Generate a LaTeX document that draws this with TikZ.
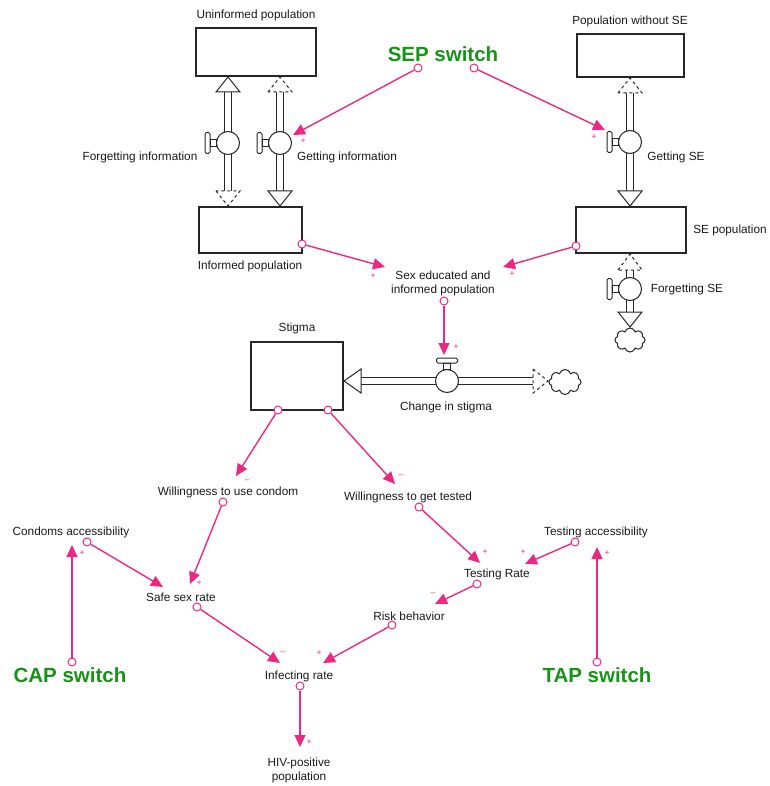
\documentclass[tikz,border=0pt]{standalone}
\usepackage{fontspec}
\setmainfont{Liberation Sans}
\usetikzlibrary{arrows.meta,shapes.symbols}
\definecolor{linkpink}{RGB}{236,40,130}
\definecolor{switchgreen}{RGB}{22,148,22}
\begin{document}
\begin{tikzpicture}[x=1pt, y=-1pt,
    lbl/.style={font=\fontsize{11.8}{14}\selectfont, text=black!90, inner sep=0pt, align=center},
    switch/.style={font=\fontsize{20.5}{22}\selectfont\bfseries, text=switchgreen, inner sep=0pt},
    stock/.style={draw=black!85, line width=1.1pt, fill=white, inner sep=0pt},
    tail/.style={circle, draw=linkpink, fill=white, line width=1pt, inner sep=0pt, minimum size=8pt},
    link/.style={draw=linkpink, line width=1.4pt, -{Triangle[length=12pt,width=11pt]}},
    sign/.style={font=\fontsize{8.5}{8.5}\selectfont, text=linkpink, inner sep=0pt},
    pipe/.style={draw=black!85, line width=1pt, double=white, double distance=6.5pt},
    head/.style={draw=black!85, line width=1pt, fill=white},
    vapor/.style={cloud, cloud puffs=8, draw=black!85, line width=1pt, fill=white, inner sep=0pt},
    valve/.pic={
        \draw[black!85, line width=1pt, fill=white, rounded corners=1.5pt] (-23,-10.5) rectangle (-18,10.5);
        \draw[black!85, line width=1pt, fill=white] (-18,-3.5) rectangle (-11.5,3.5);
        \draw[black!85, line width=1pt, fill=white] (0,0) circle[radius=11.5];
    }]
        \useasboundingbox (0,0) rectangle (769,786);
        \node[stock, minimum width=120pt, minimum height=48pt] (uninf) at (256,52) {};
        \node[stock, minimum width=103pt, minimum height=46pt] (inf) at (250.5,230) {};
        \node[stock, minimum width=107pt, minimum height=43pt] (noSE) at (630.5,55.5) {};
        \node[stock, minimum width=110pt, minimum height=46pt] (SEpop) at (631,230) {};
        \node[stock, minimum width=92pt, minimum height=68pt] (stigma) at (297,376) {};
        \node[lbl] (uninfL) at (256,15) {Uninformed population};
        \node[lbl] (infL) at (250,266) {Informed population};
        \node[lbl] (noSEL) at (630,21) {Population without SE};
        \node[lbl] (SEpopL) at (730,230) {SE population};
        \node[lbl] (stigmaL) at (297,328) {Stigma};
        \draw[pipe] (228,92) -- (228,191);
        \draw[pipe] (280,92) -- (280,191);
        \draw[pipe] (630,92) -- (630,191);
        \draw[pipe] (630,270) -- (630,312);
        \draw[pipe] (361,381) -- (533,381);
        \draw[head] (216,92) -- (228,77) -- (240,92) -- cycle;
        \draw[head] (268,191) -- (280,206) -- (292,191) -- cycle;
        \draw[head] (618,191) -- (630,206) -- (642,191) -- cycle;
        \draw[head] (618,312) -- (630,327) -- (642,312) -- cycle;
        \draw[head] (361,369) -- (344,381) -- (361,393) -- cycle;
        \draw[head, dashed] (216,191) -- (228,206) -- (240,191) -- cycle;
        \draw[head, dashed] (268,92) -- (280,77) -- (292,92) -- cycle;
        \draw[head, dashed] (618,93) -- (630,78) -- (642,93) -- cycle;
        \draw[head, dashed] (618,270) -- (630,254) -- (642,270) -- cycle;
        \draw[head, dashed] (533,369) -- (548,381) -- (533,393) -- cycle;
        \node[vapor, minimum width=30pt, minimum height=24pt] (sinkSE) at (630,340) {};
        \node[vapor, minimum width=32pt, minimum height=25pt] (sinkStigma) at (565,382) {};
        \pic at (228,143) {valve};
        \pic at (280,143) {valve};
        \pic at (630,142) {valve};
        \pic at (630,289) {valve};
        \pic[rotate=-90] at (447,381) {valve};
        \node[lbl] (forgetInfo) at (140,157) {Forgetting information};
        \node[lbl] (getInfo) at (347,157) {Getting information};
        \node[lbl] (getSE) at (676,157) {Getting SE};
        \node[lbl] (forgetSE) at (687,289) {Forgetting SE};
        \node[lbl] (changeStigma) at (446,407) {Change in stigma};
        \node[switch] (SEP) at (443,54) {SEP switch};
        \node[switch] (CAP) at (70,675) {CAP switch};
        \node[switch] (TAP) at (597,675) {TAP switch};
        \node[lbl] (sexEd) at (443,283) {Sex educated and\\informed population};
        \node[lbl] (condom) at (228,492) {Willingness to use condom};
        \node[lbl] (tested) at (408,497) {Willingness to get tested};
        \node[lbl] (condAcc) at (71,532) {Condoms accessibility};
        \node[lbl] (testAcc) at (596,532) {Testing accessibility};
        \node[lbl] (safeSex) at (181,597) {Safe sex rate};
        \node[lbl] (testRate) at (497,574) {Testing Rate};
        \node[lbl] (risk) at (409,616) {Risk behavior};
        \node[lbl] (infect) at (299,676) {Infecting rate};
        \node[lbl] (hiv) at (299,770) {HIV-positive\\population};
        \node[tail] (tSEPa) at (418,68) {};
        \node[tail] (tSEPb) at (474,68) {};
        \node[tail] (tInf) at (302,244) {};
        \node[tail] (tSEpop) at (576,246) {};
        \node[tail] (tSexEd) at (444,301) {};
        \node[tail] (tStigmaA) at (278,410) {};
        \node[tail] (tStigmaB) at (328,410) {};
        \node[tail] (tCondom) at (223,502) {};
        \node[tail] (tTested) at (419,507) {};
        \node[tail] (tCondAcc) at (87,542) {};
        \node[tail] (tCAP) at (72,662) {};
        \node[tail] (tSafeSex) at (197,607) {};
        \node[tail] (tInfect) at (300,686) {};
        \node[tail] (tRisk) at (392,625) {};
        \node[tail] (tTestRate) at (477,584) {};
        \node[tail] (tTestAcc) at (575,542) {};
        \node[tail] (tTAP) at (597,662) {};
        \coordinate (hGetInfo) at (293,135);
        \coordinate (hGetSE) at (605,130);
        \coordinate (hSexEdA) at (385,267);
        \coordinate (hSexEdB) at (503,267);
        \coordinate (hChange) at (444,355);
        \coordinate (hCondom) at (236,476);
        \coordinate (hTested) at (395,484);
        \coordinate (hSafeSexA) at (190,584);
        \coordinate (hSafeSexB) at (163,587);
        \coordinate (hTestRateA) at (480,563);
        \coordinate (hTestRateB) at (525,564);
        \coordinate (hCondAcc) at (72,545);
        \coordinate (hTestAcc) at (597,547);
        \coordinate (hInfectA) at (280,663);
        \coordinate (hInfectB) at (323,663);
        \coordinate (hRisk) at (435,604);
        \coordinate (hHiv) at (300,747);
        \draw[link] (tSEPa) -- (hGetInfo);
        \draw[link] (tSEPb) -- (hGetSE);
        \draw[link] (tInf) -- (hSexEdA);
        \draw[link] (tSEpop) -- (hSexEdB);
        \draw[link] (tSexEd) -- (hChange);
        \draw[link] (tStigmaA) -- (hCondom);
        \draw[link] (tStigmaB) -- (hTested);
        \draw[link] (tCondom) -- (hSafeSexA);
        \draw[link] (tCondAcc) -- (hSafeSexB);
        \draw[link] (tTested) -- (hTestRateA);
        \draw[link] (tTestAcc) -- (hTestRateB);
        \draw[link] (tCAP) -- (hCondAcc);
        \draw[link] (tTAP) -- (hTestAcc);
        \draw[link] (tSafeSex) -- (hInfectA);
        \draw[link] (tRisk) -- (hInfectB);
        \draw[link] (tTestRate) -- (hRisk);
        \draw[link] (tInfect) -- (hHiv);
        \node[sign] (s1) at (303,141) {+};
        \node[sign] (s2) at (594,137) {+};
        \node[sign] (s3) at (373,276) {+};
        \node[sign] (s4) at (512,274) {+};
        \node[sign] (s5) at (456,347) {+};
        \node[sign] (s6) at (247,481) {\textendash};
        \node[sign] (s7) at (401,476) {\textendash};
        \node[sign] (s8) at (199,583) {+};
        \node[sign] (s9) at (485,552) {+};
        \node[sign] (s10) at (523,552) {+};
        \node[sign] (s11) at (82,553) {+};
        \node[sign] (s12) at (607,553) {+};
        \node[sign] (s13) at (283,653) {\textendash};
        \node[sign] (s14) at (319,653) {+};
        \node[sign] (s15) at (433,594) {\textendash};
        \node[sign] (s16) at (309,742) {+};
      \end{tikzpicture}
\end{document}
